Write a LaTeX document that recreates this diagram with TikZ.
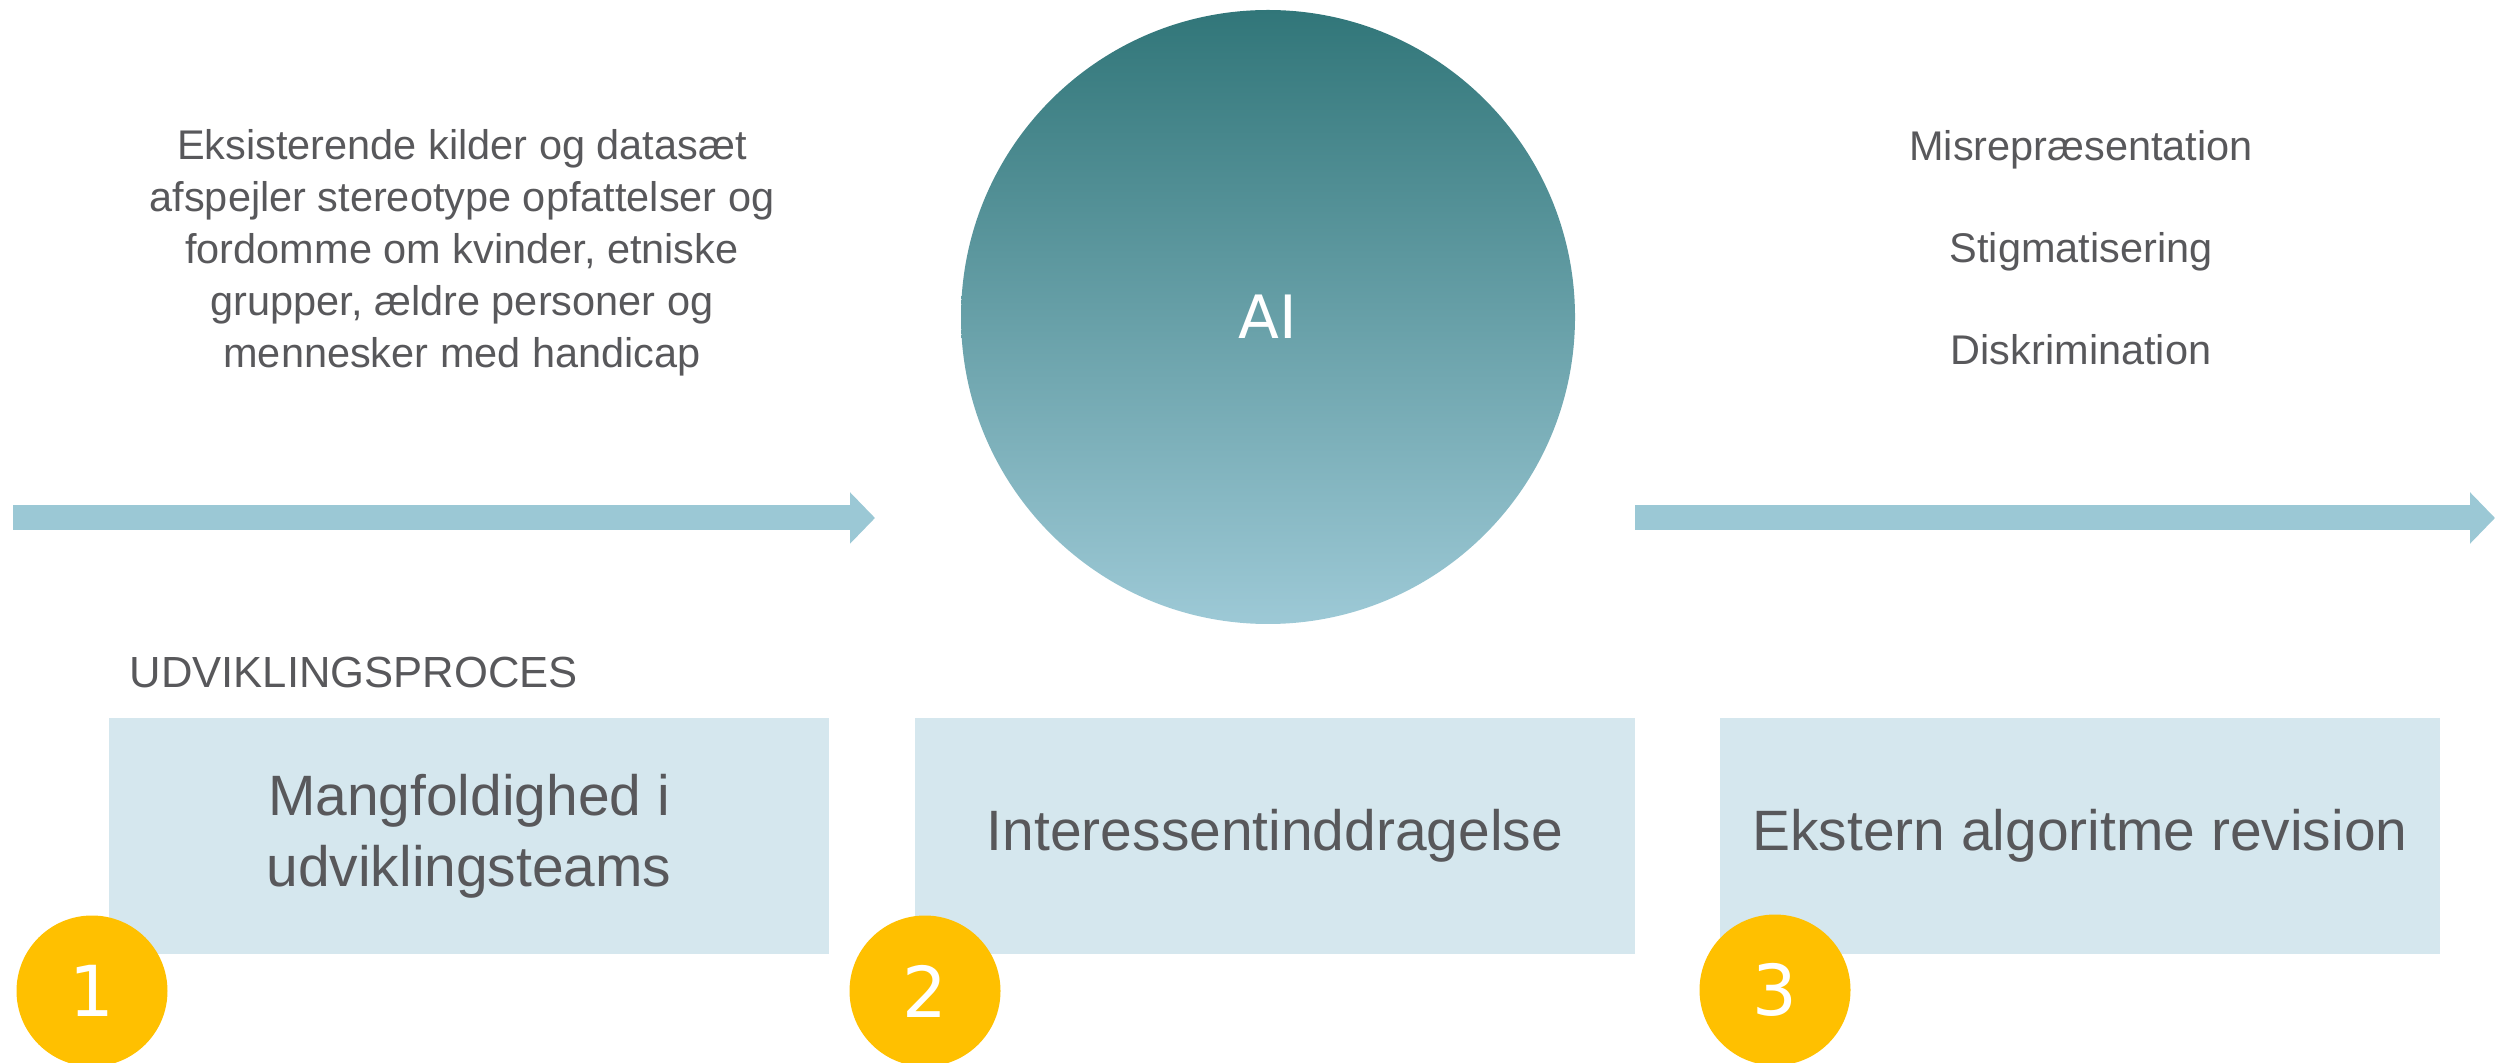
\documentclass[tikz,border=0pt]{standalone}
\usepackage{fontspec}
\setmainfont{Liberation Sans}
\newfontfamily\numfont{DejaVu Sans}
\usepackage{tikz}
\usetikzlibrary{arrows.meta}
\usepackage{xcolor}

\definecolor{txtgray}{HTML}{58585B}
\definecolor{flowblue}{HTML}{9BC8D5}
\definecolor{boxblue}{HTML}{D5E7EE}
\definecolor{aitop}{HTML}{317679}
\definecolor{aibot}{HTML}{9DC9D6}
\definecolor{gold}{HTML}{FFC000}

\tikzset{
  smalltxt/.style={text=txtgray, inner sep=0pt, font=\fontsize{11.8}{14.8}\selectfont},
  infobox/.style={fill=boxblue, minimum width=7.2cm, minimum height=2.36cm, align=center,
    text=txtgray, font=\fontsize{16.2}{20.2}\selectfont},
  numdot/.style={circle, fill=gold, minimum size=1.51cm, inner sep=0pt, text=white,
    font=\numfont\fontsize{20}{24}\selectfont},
  flowarrow/.style={flowblue, line width=0.25cm, -{Triangle[length=0.25cm, width=0.5cm]}}
}

\begin{document}
\begin{tikzpicture}
    \useasboundingbox (0,0) rectangle (25.09,10.62);
    \clip (0,0) rectangle (25.09,10.62);
    % Pile ind og ud
    \coordinate (inStart) at (0.13,5.44);
    \coordinate (inEnd) at (8.75,5.44);
    \coordinate (outStart) at (16.35,5.44);
    \coordinate (outEnd) at (24.95,5.44);
    \draw[flowarrow] (inStart) -- (inEnd);
    \draw[flowarrow] (outStart) -- (outEnd);
    % AI-cirkel
    \node[circle, top color=aitop, bottom color=aibot, minimum size=6.14cm, text=white,
      font=\numfont\fontsize{17}{20}\selectfont] (ai) at (12.68,7.45) {AI};
    % Tekst til venstre
    \node[smalltxt, align=center] (kilder) at (4.62,8.09)
      {Eksisterende kilder og datasæt\\afspejler stereotype opfattelser og\\fordomme om kvinder, etniske\\grupper, ældre personer og\\mennesker med handicap};
    % Tekst til højre
    \node[smalltxt, anchor=base] (misrep) at (20.81,9.01) {Misrepræsentation};
    \node[smalltxt, anchor=base] (stigma) at (20.81,7.99) {Stigmatisering};
    \node[smalltxt, anchor=base] (diskrim) at (20.81,6.97) {Diskrimination};
    % Udviklingsproces
    \node[smalltxt, anchor=west, font=\fontsize{12.4}{15}\selectfont] (proces) at (1.29,3.90) {UDVIKLINGSPROCES};
    \node[infobox] (box1) at (4.69,2.26) {Mangfoldighed i\\udviklingsteams};
    \node[infobox] (box2) at (12.75,2.26) {Interessentinddragelse};
    \node[infobox] (box3) at (20.80,2.26) {Ekstern algoritme revision};
    % Numre
    \node[numdot] (n1) at (0.92,0.71) {1};
    \node[numdot] (n2) at (9.25,0.71) {2};
    \node[numdot] (n3) at (17.75,0.72) {3};
\end{tikzpicture}
\end{document}
